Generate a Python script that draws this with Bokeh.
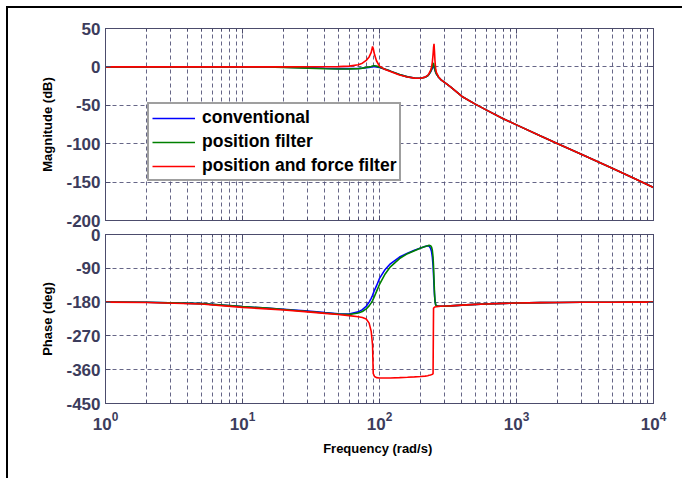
from bokeh.plotting import figure
from bokeh.layouts import column
from bokeh.models import (Range1d, FixedTicker, LogAxis, LinearAxis, Legend,
                          LegendItem, LogTickFormatter, CustomJSTickFormatter)
from bokeh.embed import file_html
from bokeh.resources import INLINE

# ---------------- data ----------------
freq = [1, 2, 5, 10, 15, 20, 30, 40, 50, 60,
        70, 75, 80, 84, 87, 89, 90, 92, 95, 100,
        110, 120, 140, 160, 180, 200, 215, 225, 230, 236,
        240, 243, 246, 248, 250, 252, 254, 257, 260, 270,
        280, 300, 330, 400, 500, 600, 800, 1000, 1500, 2000,
        3000, 5000, 7000, 10000]

mag_conventional = [0, 0, 0, 0, -0.1, -0.3, -1.0, -1.8, -2.2, -2.3,
                    -2.0, -1.6, -1.1, -0.6, -0.2, 0.0, 0.1, 0.2, 0.0, -0.8,
                    -3.0, -5.5, -10.0, -13.0, -14.5, -14.8, -13.5, -11.5, -9.5, -6.5,
                    -4.0, -1.5, 0.5, 1.0, 0.0, -2.0, -4.0, -7.0, -9.0, -13.5,
                    -16.5, -20.5, -26.0, -38.5, -48.5, -56.0, -67.5, -75.5, -90.0, -100.0,
                    -114.0, -132.0, -144.0, -157.0]

mag_position = [0, 0, 0, 0, -0.2, -0.6, -1.6, -2.4, -2.7, -2.6,
                -2.2, -1.6, -0.8, 0.0, 0.6, 1.2, 1.4, 1.5, 1.0, -0.3,
                -3.0, -5.5, -10.0, -13.0, -14.5, -14.8, -13.5, -11.5, -9.5, -6.0,
                -3.0, 1.0, 4.5, 5.0, 2.0, -1.5, -4.0, -7.0, -9.0, -13.5,
                -16.5, -20.5, -26.0, -38.5, -48.5, -56.0, -67.5, -75.5, -90.0, -100.0,
                -114.0, -132.0, -144.0, -157.0]

mag_position_force = [0, 0, 0, 0, 0, 0, 0.1, 0.2, 0.4, 1.0,
                      2.8, 4.8, 8.5, 13.0, 19.0, 26.5, 24.0, 16.0, 8.0, 1.0,
                      -3.5, -6.0, -10.5, -13.2, -14.6, -14.8, -13.3, -11.0, -8.5, -4.5,
                      0.0, 6.0, 16.0, 25.0, 30.0, 20.0, 8.0, -2.0, -7.0, -13.0,
                      -16.5, -20.5, -26.0, -38.5, -48.5, -56.0, -67.5, -75.5, -90.0, -100.0,
                      -114.0, -132.0, -144.0, -157.0]

phase_conventional = [-180, -180.5, -184, -192, -196, -199, -204, -208, -211, -212,
                      -206, -200, -191, -180, -170, -162, -157, -148, -137, -117,
                      -93, -78, -60, -50, -42, -36, -32, -30, -31, -37,
                      -46, -60, -82, -108, -135, -160, -177, -187, -189, -191,
                      -191, -191, -190, -188, -186, -185, -183.5, -182.5, -181.5, -181,
                      -180.5, -180.2, -180.1, -180]

phase_position = [-180, -180.5, -184, -192, -196, -199.5, -205, -209, -212, -213,
                  -209, -205, -198, -190, -182, -176, -172, -164, -152, -133,
                  -105, -86, -64, -51, -43, -36, -32, -30, -29, -30,
                  -34, -42, -60, -85, -120, -155, -176, -187, -190, -191,
                  -191, -191, -190, -188, -186, -185, -183.5, -182.5, -181.5, -181,
                  -180.5, -180.2, -180.1, -180]

phase_position_force = [-180, -181, -185, -194, -198, -201, -206, -210, -213, -216,
                        -219, -221, -225, -236, -258, -295, -370, -378, -381, -382,
                        -382, -382, -381, -380, -379, -378, -377, -376, -375, -374,
                        -373, -372, -371, -196, -195, -194, -193, -192.5, -192, -191.5,
                        -191, -190.5, -190, -188, -186, -185, -183.5, -182.5, -181.5, -181,
                        -180.5, -180.2, -180.1, -180]

series_names = ["conventional", "position filter", "position and force filter"]
series_colors = ["#0000ff", "#008000", "#ff0000"]

mag_ticks = [-200, -150, -100, -50, 0, 50]
phase_ticks = [-450, -360, -270, -180, -90, 0]
x_major = [1, 10, 100, 1000, 10000]
x_minor = [m * 10 ** d for d in range(4) for m in range(2, 10)]

# ---------------- styling ----------------
FONT = "Liberation Sans"
AX_COL = "#4c4c6c"
GRID_COL = "#55557a"
TICK_COL = "#3c3c5c"


def blank_axis(ax):
    ax.formatter = CustomJSTickFormatter(code="return ''")
    ax.major_label_text_font_size = "1px"
    ax.major_label_standoff = 0


def style(p, yticks, show_x_labels):
    p.background_fill_color = "white"
    p.border_fill_color = "white"
    p.outline_line_color = AX_COL
    p.outline_line_width = 1
    p.outline_line_alpha = 1

    xt = FixedTicker(ticks=x_major, minor_ticks=x_minor)
    yt = FixedTicker(ticks=yticks)

    p.xaxis.ticker = xt
    p.yaxis.ticker = yt
    p.yaxis.formatter = CustomJSTickFormatter(code="return tick.toString()")
    p.xgrid.ticker = xt
    p.ygrid.ticker = yt

    for g in (p.xgrid, p.ygrid):
        g.grid_line_color = GRID_COL
        g.grid_line_dash = "4 3"
        g.grid_line_width = 1
        g.grid_line_alpha = 0.9
    p.xgrid.minor_grid_line_color = GRID_COL
    p.xgrid.minor_grid_line_dash = "4 3"
    p.xgrid.minor_grid_line_alpha = 0.9

    for ax in p.xaxis + p.yaxis:
        ax.axis_line_color = AX_COL
        ax.major_tick_line_color = AX_COL
        ax.minor_tick_line_color = AX_COL
        ax.major_tick_in = 5
        ax.major_tick_out = 0
        ax.minor_tick_in = 3
        ax.minor_tick_out = 0
        ax.major_label_text_font = FONT
        ax.major_label_text_font_style = "bold"
        ax.major_label_text_font_size = "17px"
        ax.major_label_text_color = TICK_COL
        ax.axis_label_text_font = FONT
        ax.axis_label_text_font_style = "bold"
        ax.axis_label_text_font_size = "13px"
        ax.axis_label_text_color = "black"
    p.yaxis.minor_tick_line_color = None
    p.yaxis.major_label_standoff = 5
    p.yaxis.axis_label_standoff = 8
    p.xaxis.major_label_standoff = 8
    p.xaxis.axis_label_standoff = 8
    if not show_x_labels:
        for ax in p.xaxis:
            blank_axis(ax)

    # box ticks on the top and right sides (labels hidden)
    top = LogAxis(ticker=xt,
                  axis_line_color=AX_COL, major_tick_line_color=AX_COL,
                  minor_tick_line_color=AX_COL, major_tick_in=5, major_tick_out=0,
                  minor_tick_in=3, minor_tick_out=0)
    blank_axis(top)
    right = LinearAxis(ticker=yt,
                       axis_line_color=AX_COL, major_tick_line_color=AX_COL,
                       minor_tick_line_color=None, major_tick_in=5, major_tick_out=0)
    blank_axis(right)
    p.add_layout(top, "above")
    p.add_layout(right, "right")


W = 676
p1 = figure(width=W, height=220, x_axis_type="log",
            x_range=Range1d(1, 10000), y_range=Range1d(-200, 50),
            output_backend="svg", toolbar_location=None,
            min_border_left=97, min_border_right=W - 97 - 548,
            min_border_top=20, min_border_bottom=8)
p1.yaxis.axis_label = "Magnitude (dB)"
style(p1, mag_ticks, False)

p2 = figure(width=W, height=252, x_axis_type="log",
            x_range=Range1d(1, 10000), y_range=Range1d(-450, 0),
            output_backend="svg", toolbar_location=None,
            min_border_left=97, min_border_right=W - 97 - 548,
            min_border_top=6, min_border_bottom=77)
p2.yaxis.axis_label = "Phase (deg)"
p2.xaxis.axis_label = "Frequency  (rad/s)"
p2.xaxis.formatter = LogTickFormatter()
style(p2, phase_ticks, True)

mags = [mag_conventional, mag_position, mag_position_force]
phases = [phase_conventional, phase_position, phase_position_force]

items = []
for name, col, m, ph in zip(series_names, series_colors, mags, phases):
    r = p1.line(freq, m, line_color=col, line_width=1.6)
    p2.line(freq, ph, line_color=col, line_width=1.6)
    items.append(LegendItem(label=name, renderers=[r]))

legend = Legend(items=items, location=(42, 39), margin=0, padding=3,
                spacing=3, label_height=20, glyph_height=20, glyph_width=43,
                label_standoff=7,
                label_text_font=FONT, label_text_font_style="bold",
                label_text_font_size="17.5px", label_text_color="black",
                border_line_color="#404040", border_line_width=2,
                background_fill_color="white", background_fill_alpha=1)
p1.add_layout(legend)

layout = column(p1, p2, margin=(8, 0, 0, 8), spacing=0,
                styles={"box-shadow": "-2px -2px 0 0 black"})

open("out.html", "w").write(file_html(layout, INLINE))
